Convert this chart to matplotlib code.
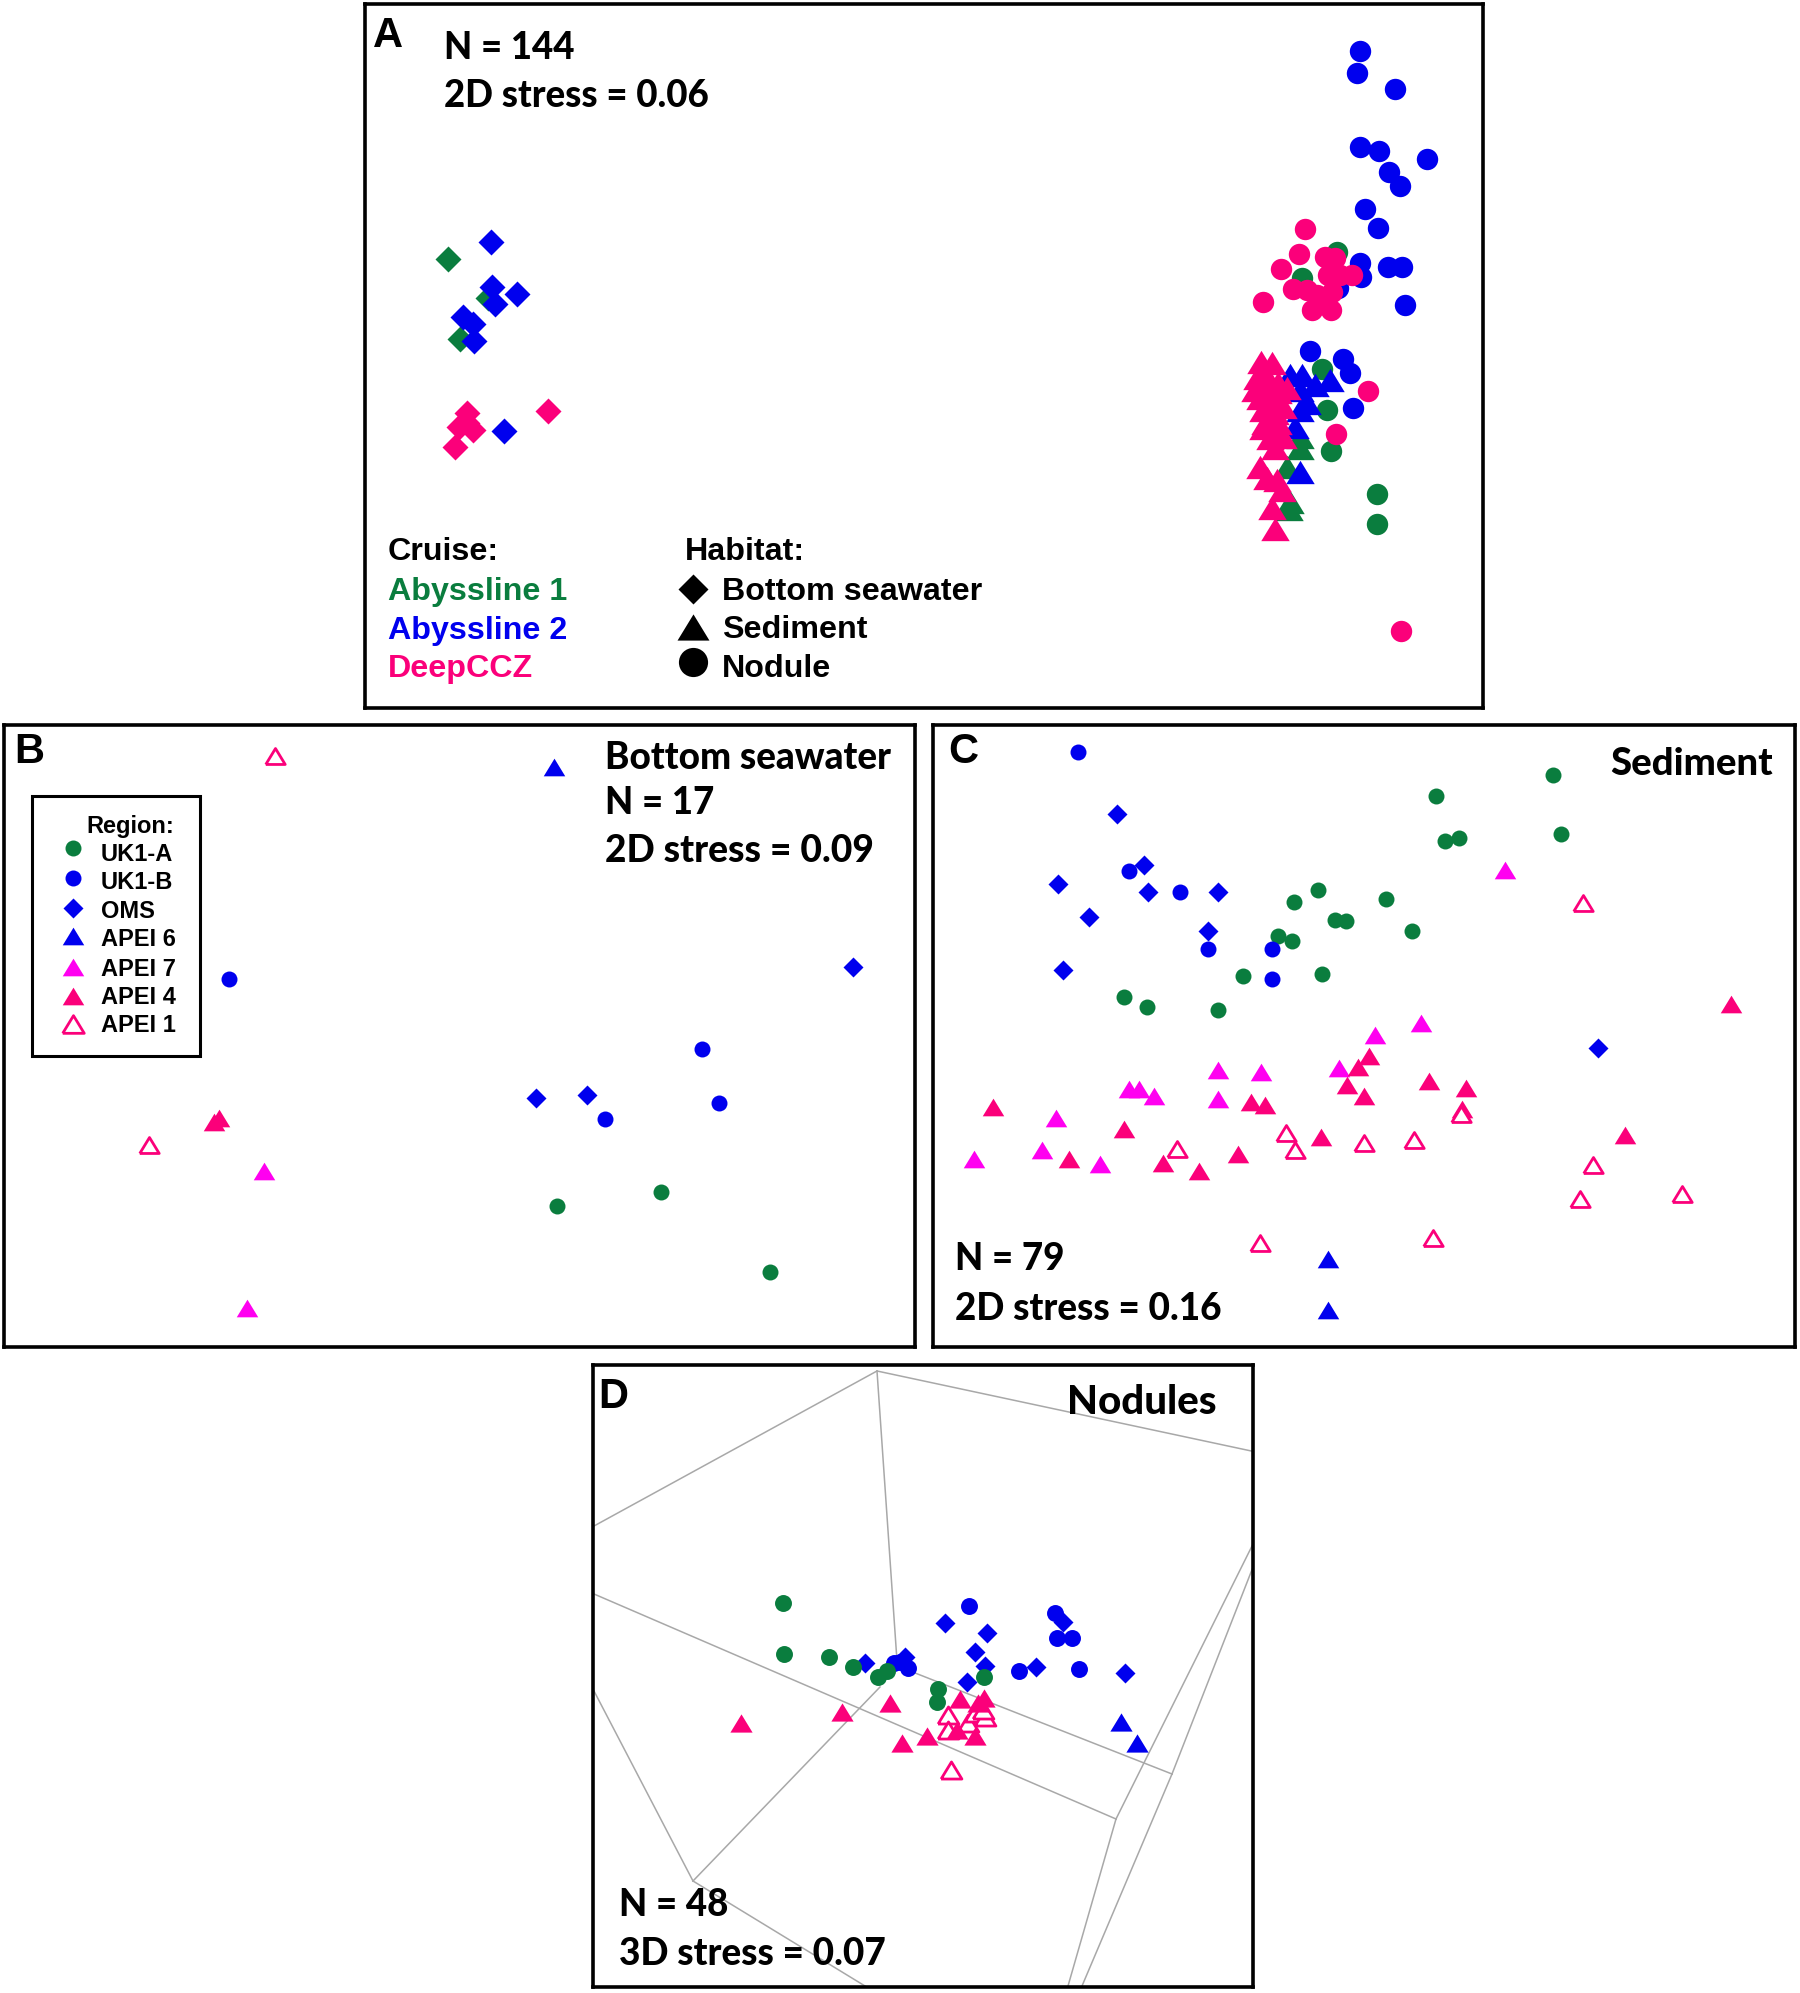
import matplotlib
matplotlib.use('Agg')
import matplotlib.pyplot as plt
from matplotlib.patches import Rectangle

# colours
GREEN = '#0A7D3E'
BLUE = '#0000EE'
PINK = '#FB007A'
MAGENTA = '#FF00F0'

# panel A: ordination positions per cruise and habitat
a_sea_green = [(448, 259), (488, 298), (460, 339)]
a_sea_blue = [(491, 242), (492, 287), (495, 304), (517, 294), (463, 317), (473, 324), (474, 341), (504, 431)]
a_sea_pink = [(467, 413), (459, 427), (467, 423), (473, 430), (455, 447), (548, 411)]
a_sed_green = [(1300, 437), (1300, 448), (1287, 467), (1290, 502), (1289, 509)]
a_sed_blue = [(1290, 375), (1302, 375), (1315, 385), (1330, 380), (1300, 390), (1307, 403), (1300, 410),
              (1295, 427), (1300, 472)]
a_sed_pink = [(1261, 362), (1272, 363), (1257, 378), (1267, 377), (1278, 383), (1255, 390), (1287, 388),
              (1265, 392), (1278, 392), (1260, 398), (1272, 400), (1283, 407), (1263, 410), (1275, 413),
              (1265, 423), (1278, 423), (1263, 428), (1275, 432), (1270, 438), (1283, 437), (1275, 448),
              (1260, 467), (1267, 478), (1277, 480), (1282, 490), (1272, 508), (1275, 529)]
a_nod_green = [(1337, 252), (1302, 278), (1322, 369), (1327, 410), (1331, 451), (1377, 494), (1377, 524)]
a_nod_blue = [(1360, 51), (1357, 73), (1395, 89), (1360, 147), (1379, 151), (1427, 159), (1389, 172),
              (1400, 186), (1365, 209), (1378, 228), (1360, 263), (1361, 277), (1388, 267), (1402, 267),
              (1405, 305), (1338, 288), (1310, 351), (1343, 359), (1350, 373), (1353, 408)]
a_nod_pink = [(1305, 229), (1299, 254), (1281, 269), (1263, 302), (1293, 289), (1325, 257), (1335, 258),
              (1328, 275), (1340, 275), (1352, 275), (1307, 290), (1317, 295), (1332, 292), (1312, 310),
              (1331, 310), (1321, 300), (1368, 391), (1336, 434), (1401, 631)]

# panel B: bottom seawater
b_uk1a = [(438, 949), (520, 938), (606, 1001)]
b_uk1b = [(180, 771), (552, 826), (566, 868), (476, 881)]
b_oms = [(671, 761), (422, 864), (462, 862)]
b_apei6 = [(436, 604)]
b_apei7 = [(208, 922), (194, 1029)]
b_apei4 = [(172, 880), (168, 883)]
b_apei1 = [(216, 595), (117, 901)]

# panel C: sediment
c_uk1a = [(1222, 610), (1130, 627), (1228, 657), (1137, 662), (1148, 660), (1037, 701), (1018, 710),
          (1090, 708), (1050, 724), (1059, 725), (1111, 733), (1005, 737), (1016, 741), (978, 768),
          (1040, 767), (884, 785), (902, 793), (958, 795)]
c_uk1b = [(848, 592), (888, 686), (928, 702), (950, 747), (1001, 747), (1001, 771)]
c_oms = [(879, 641), (900, 681), (903, 702), (958, 702), (832, 696), (857, 722), (950, 733), (836, 764),
         (1257, 825)]
c_apei6 = [(1045, 991), (1045, 1031)]
c_apei7 = [(1184, 685), (1118, 805), (1082, 815), (1053, 841), (958, 842), (992, 844), (888, 857),
           (896, 857), (908, 863), (958, 865), (831, 880), (820, 905), (766, 912), (865, 916)]
c_apei4 = [(1362, 790), (1077, 831), (1068, 840), (1060, 854), (1073, 863), (1124, 851), (1153, 856),
           (1150, 873), (984, 867), (995, 870), (781, 871), (884, 889), (1278, 893), (1039, 895),
           (841, 912), (915, 915), (943, 922), (974, 908)]
c_apei1 = [(1245, 711), (1012, 892), (1019, 905), (926, 904), (1073, 900), (1112, 897), (1149, 877),
           (1253, 917), (1243, 944), (1323, 940), (991, 978), (1127, 974)]

# panel D: nodules
d_uk1a = [(783, 1603), (784, 1654), (829, 1657), (853, 1667), (887, 1671), (878, 1677), (938, 1689),
          (937, 1702), (984, 1677)]
d_uk1b = [(969, 1606), (1055, 1613), (1057, 1638), (1072, 1638), (1079, 1669), (1019, 1671), (894, 1663),
          (908, 1668), (900, 1662)]
d_oms = [(945, 1623), (987, 1633), (1063, 1622), (975, 1652), (985, 1666), (967, 1682), (1036, 1667),
         (1125, 1673), (865, 1663), (905, 1657)]
d_apei6 = [(1121, 1722), (1137, 1743)]
d_apei4 = [(741, 1723), (842, 1712), (890, 1703), (902, 1743), (927, 1736), (960, 1699), (978, 1703),
           (984, 1698), (957, 1730), (975, 1736)]
d_apei1 = [(948, 1715), (948, 1730), (968, 1723), (975, 1713), (985, 1717), (983, 1710), (951, 1770)]
# grey frame of the 3D plot
d_frame = [[(877, 1371), (594, 1526)], [(877, 1371), (1256, 1452)], [(877, 1371), (897, 1661)],
           [(594, 1594), (1116, 1819)], [(910, 1671), (1172, 1774)], [(1116, 1819), (1255, 1540)],
           [(1172, 1774), (1255, 1562)], [(1116, 1819), (1068, 1986)], [(1172, 1774), (1082, 1986)],
           [(693, 1881), (880, 1687)], [(594, 1691), (693, 1881)], [(693, 1881), (865, 1986)]]

region_names = ['UK1-A', 'UK1-B', 'OMS', 'APEI 6', 'APEI 7', 'APEI 4', 'APEI 1']
cruise_names = ['Abyssline 1', 'Abyssline 2', 'DeepCCZ']
habitat_names = ['Bottom seawater', 'Sediment', 'Nodule']

W, H = 1800, 1993
# the triangles are flatter than matplotlib's '^'; last point closes the outline
TRI = [(-1, -0.82), (1, -0.82), (0, 0.82), (-1, -0.82)]
LABEL = 'Lato'
ARIAL = 'Liberation Sans'

fig = plt.figure(figsize=(W / 100, H / 100), dpi=100)


def panel(box, xlim, ylim):
    x0, y0, x1, y1 = box
    ax = fig.add_axes([x0 / W, 1 - y1 / H, (x1 - x0) / W, (y1 - y0) / H])
    ax.set_xlim(xlim)
    ax.set_ylim(ylim)
    ax.set_xticks([])
    ax.set_yticks([])
    for s in ax.spines.values():
        s.set_linewidth(2.6)
    return ax


def pts(ax, data, marker, color, size, hollow=False):
    xs = [p[0] for p in data]
    ys = [p[1] for p in data]
    if hollow:
        ax.plot(xs, ys, ls='none', marker=marker, ms=size, mfc='white', mec=color, mew=2)
    else:
        ax.plot(xs, ys, ls='none', marker=marker, ms=size, mfc=color, mec='none')


def note(ax, x, y, s, size=26.4, family=LABEL, color='black', weight='black', **kw):
    ax.text(x, y + 2, s, fontsize=size, family=family, fontweight=weight, color=color, va='center', **kw)


def arial(ax, x, y, s, size=23.2, color='black'):
    note(ax, x, y, s, size=size, family=ARIAL, color=color, weight='bold')


# A
ax = panel((365, 4, 1483, 708), (365, 1483), (708, 4))
for data, c in [(a_sea_green, GREEN), (a_sea_blue, BLUE), (a_sea_pink, PINK)]:
    pts(ax, data, 'D', c, 13.2)
for data, c in [(a_nod_green, GREEN), (a_nod_blue, BLUE), (a_nod_pink, PINK)]:
    pts(ax, data, 'o', c, 15.4)
for data, c in [(a_sed_green, GREEN), (a_sed_blue, BLUE), (a_sed_pink, PINK)]:
    pts(ax, data, TRI, c, 20.5)
arial(ax, 373, 34, 'A', size=30)
note(ax, 444, 46, 'N = 144')
note(ax, 444, 94, '2D stress = 0.06')
arial(ax, 388, 550, 'Cruise:')
for name, y, c in zip(cruise_names, [590, 629, 667], [GREEN, BLUE, PINK]):
    arial(ax, 388, y, name, color=c)
arial(ax, 685, 550, 'Habitat:')
for name, y, ty, m, ms in zip(habitat_names, [589, 627, 662], [590, 628, 667], ['D', TRI, 'o'], [15, 23, 21]):
    pts(ax, [(693, y)], m, 'black', ms)
    arial(ax, 722, ty, name)

# B
ax = panel((4, 725, 915, 1347), (3, 720), (1060, 571))
pts(ax, b_uk1a, 'o', GREEN, 11.5)
pts(ax, b_uk1b, 'o', BLUE, 11.5)
pts(ax, b_oms, 'D', BLUE, 10)
pts(ax, b_apei6, TRI, BLUE, 15.5)
pts(ax, b_apei7, TRI, MAGENTA, 15.5)
pts(ax, b_apei4, TRI, PINK, 15.5)
pts(ax, b_apei1, TRI, PINK, 14, hollow=True)
arial(ax, 11, 590, 'B', size=30)
note(ax, 476, 595, 'Bottom seawater', size=26.6)
note(ax, 476, 630, 'N = 17')
note(ax, 476, 668, '2D stress = 0.09', size=26.7)
ax.add_patch(Rectangle((25, 627), 132, 204, fc='white', ec='black', lw=2.2))
arial(ax, 68, 649, 'Region:', size=17)
leg_y = [668, 691, 715, 737, 761, 784, 806]
txt_y = [671, 693, 716, 738, 761, 783, 805]
leg_style = [('o', GREEN), ('o', BLUE), ('D', BLUE), (TRI, BLUE), (TRI, MAGENTA), (TRI, PINK), (TRI, PINK)]
for name, y, ty, (m, c) in zip(region_names, leg_y, txt_y, leg_style):
    sz = 11.5 if m == 'o' else 10.5 if m == 'D' else 15.5
    pts(ax, [(57.5, y)], m, c, sz, hollow=name == 'APEI 1')
    arial(ax, 79, ty, name, size=17)

# C
ax = panel((933, 725, 1795, 1347), (734, 1412), (1060, 571))
pts(ax, c_uk1a, 'o', GREEN, 11.5)
pts(ax, c_uk1b, 'o', BLUE, 11.5)
pts(ax, c_oms, 'D', BLUE, 10.2)
pts(ax, c_apei6, TRI, BLUE, 15.5)
pts(ax, c_apei7, TRI, MAGENTA, 15.5)
pts(ax, c_apei4, TRI, PINK, 15.5)
pts(ax, c_apei1, TRI, PINK, 14, hollow=True)
arial(ax, 746, 590, 'C', size=30)
note(ax, 1267, 600, 'Sediment', size=27.5)
note(ax, 751, 989, 'N = 79')
note(ax, 751, 1028, '2D stress = 0.16', size=26.6)

# D
ax = panel((593, 1365, 1253, 1987), (593, 1253), (1987, 1365))
for seg in d_frame:
    ax.plot([seg[0][0], seg[1][0]], [seg[0][1], seg[1][1]], color='#a8a8a8', lw=1.1)
pts(ax, d_oms, 'D', BLUE, 10.6)
pts(ax, d_uk1b, 'o', BLUE, 12.2)
pts(ax, d_uk1a, 'o', GREEN, 12.2)
pts(ax, d_apei6, TRI, BLUE, 16)
pts(ax, d_apei1, TRI, PINK, 15, hollow=True)
pts(ax, d_apei4, TRI, PINK, 16)
arial(ax, 598, 1395, 'D', size=30)
note(ax, 1067, 1400, 'Nodules', size=29)
note(ax, 619, 1903, 'N = 48')
note(ax, 619, 1952, '3D stress = 0.07', size=26.6)

fig.savefig('out.png', dpi=100)
